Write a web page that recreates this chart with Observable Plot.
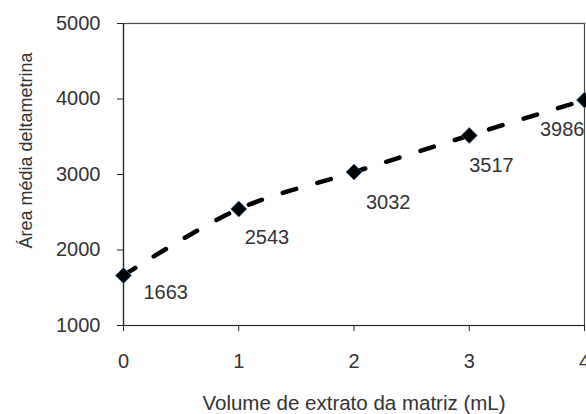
<!DOCTYPE html>
<html>
<head>
<meta charset="utf-8">
<script src="https://cdn.jsdelivr.net/npm/d3@7"></script>
<script src="https://cdn.jsdelivr.net/npm/@observablehq/plot@0.6"></script>
<style>
  html, body { margin: 0; padding: 0; background: #fff; overflow: hidden; }
  #chart svg { display: block; font-family: "Liberation Sans", Arial, sans-serif; }
</style>
</head>
<body>
<div id="chart"></div>
<script>
const volume = [0, 1, 2, 3, 4];
const area = [1663, 2543, 3032, 3517, 3986];
const xTicks = [0, 1, 2, 3, 4];
const yTicks = [1000, 2000, 3000, 4000, 5000];
const xTitle = "Volume de extrato da matriz (mL)";
const yTitle = "Área média deltametrina";

const data = volume.map((v, i) => ({x: v, y: area[i], label: String(area[i])}));

const labelStyle = {x: "x", y: "y", text: "label", fontSize: 20, fill: "#333", lineAnchor: "middle"};

const chart = Plot.plot({
  width: 586,
  height: 414,
  marginLeft: 123,
  marginRight: 2,
  marginTop: 23,
  marginBottom: 89,
  style: {fontFamily: "Liberation Sans, Arial, sans-serif", fontSize: "20px", color: "#333", overflow: "visible"},
  x: {domain: [0, 4], label: null},
  y: {domain: [1000, 5000], label: null},
  marks: [
    Plot.frame({stroke: "#4a4a4a", strokeWidth: 1.2}),
    Plot.ruleX([0], {stroke: "#222", strokeWidth: 1.2}),
    Plot.ruleY([1000], {stroke: "#222", strokeWidth: 1.2}),
    Plot.line(data, {x: "x", y: "y", curve: "catmull-rom", stroke: "#000", strokeWidth: 4.5,
      strokeDasharray: "14,22", strokeLinecap: "round"}),
    Plot.dot(data, {x: "x", y: "y", symbol: "diamond2", r: 7.2, fill: "#000", stroke: "#3a6ea5", strokeWidth: 0.8}),
    Plot.text(data.filter(d => d.x === 0), {...labelStyle, textAnchor: "start", dx: 20, dy: 17}),
    Plot.text(data.filter(d => d.x === 1), {...labelStyle, textAnchor: "start", dx: 6, dy: 29}),
    Plot.text(data.filter(d => d.x === 2), {...labelStyle, textAnchor: "start", dx: 12, dy: 31}),
    Plot.text(data.filter(d => d.x === 3), {...labelStyle, textAnchor: "start", dx: 0, dy: 30}),
    Plot.text(data.filter(d => d.x === 4), {...labelStyle, textAnchor: "end", dx: 0, dy: 30}),
    Plot.axisX({ticks: xTicks, tickFormat: "d", tickSize: 6, tickPadding: 22, fontSize: 20, label: null, stroke: "#222"}),
    Plot.axisY({ticks: yTicks, tickFormat: "d", tickSize: 6, tickPadding: 17, fontSize: 20, label: null, stroke: "#222"}),
    Plot.text([xTitle], {frameAnchor: "bottom", dy: 78, fontSize: 20.5, fill: "#333", lineAnchor: "middle"}),
    Plot.text([yTitle], {frameAnchor: "left", dx: -97, dy: -24, rotate: -90, fontSize: 18, fill: "#333",
      textAnchor: "middle", lineAnchor: "middle"})
  ]
});
document.getElementById("chart").appendChild(chart);
</script>
</body>
</html>
